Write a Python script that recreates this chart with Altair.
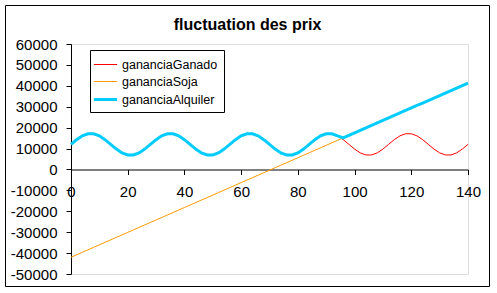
import altair as alt
import pandas as pd

x_vals = list(range(0, 141, 2))

ganado = [12000, 14260, 16070, 17070, 17070, 16070, 14260, 12000, 9740, 7930, 6930, 6930, 7930, 9740,
          12000, 14260, 16070, 17070, 17070, 16070, 14260, 12000, 9740, 7930, 6930, 6930, 7930, 9740,
          12000, 14260, 16070, 17070, 17070, 16070, 14260, 12000, 9740, 7930, 6930, 6930, 7930, 9740,
          12000, 14260, 16070, 17070, 17070, 16070, 14260, 12000, 9740, 7930, 6930, 6930, 7930, 9740,
          12000, 14260, 16070, 17070, 17070, 16070, 14260, 12000, 9740, 7930, 6930, 6930, 7930, 9740,
          12000]

soja = [-42000, -40810, -39620, -38430, -37240, -36050, -34860, -33670, -32480, -31290,
        -30100, -28910, -27720, -26530, -25340, -24150, -22960, -21770, -20580, -19390,
        -18200, -17010, -15820, -14630, -13440, -12250, -11060, -9870, -8680, -7490,
        -6300, -5110, -3920, -2730, -1540, -350, 840, 2030, 3220, 4410,
        5600, 6790, 7980, 9170, 10360, 11550, 12740, 13930, 15120, 16310,
        17500, 18690, 19880, 21070, 22260, 23450, 24640, 25830, 27020, 28210,
        29400, 30590, 31780, 32970, 34160, 35350, 36540, 37730, 38920, 40110,
        41300]

alquiler = [12000, 14260, 16070, 17070, 17070, 16070, 14260, 12000, 9740, 7930, 6930, 6930, 7930, 9740,
            12000, 14260, 16070, 17070, 17070, 16070, 14260, 12000, 9740, 7930, 6930, 6930, 7930, 9740,
            12000, 14260, 16070, 17070, 17070, 16070, 14260, 12000, 9740, 7930, 6930, 6930, 7930, 9740,
            12000, 14260, 16070, 17070, 17070, 16070,
            15120, 16310, 17500, 18690, 19880, 21070, 22260, 23450, 24640, 25830, 27020, 28210,
            29400, 30590, 31780, 32970, 34160, 35350, 36540, 37730, 38920, 40110, 41300]

series_names = ["gananciaGanado", "gananciaSoja", "gananciaAlquiler"]
series_colors = ["#FF0000", "#FF9900", "#00CCFF"]
series_widths = [1, 1, 3]
x_ticks = [0, 20, 40, 60, 80, 100, 120, 140]
y_ticks = [-50000, -40000, -30000, -20000, -10000, 0, 10000, 20000, 30000, 40000, 50000, 60000]

FONT = "Liberation Sans"

frames = []
for name, vals in zip(series_names, [ganado, soja, alquiler]):
    frames.append(pd.DataFrame({"x": x_vals, "y": vals, "series": name}))

legend = alt.Legend(
    title=None, orient="none", legendX=19, legendY=6, direction="vertical",
    symbolType="M-1.45,0H1.45", symbolSize=256,
    labelFontSize=12.5, labelFont=FONT, labelColor="black",
    strokeColor="black", fillColor="white", padding=6, rowPadding=2,
    labelOffset=7, cornerRadius=0,
)

x_enc = alt.X("x:Q", scale=alt.Scale(domain=[0, 140], nice=False),
              axis=alt.Axis(title=None, values=x_ticks, grid=False, offset=-104.5,
                            tickSize=5, labelPadding=10, labelFontSize=15, labelFont=FONT,
                            labelColor="black", domainColor="black", tickColor="black",
                            labelFlush=False, labelExpr="'' + datum.value"))
y_enc = alt.Y("y:Q", scale=alt.Scale(domain=[-50000, 60000], nice=False),
              axis=alt.Axis(title=None, values=y_ticks, grid=False,
                            tickSize=5, labelPadding=9, labelFontSize=15, labelFont=FONT,
                            labelColor="black", domainColor="black", tickColor="black",
                            labelExpr="'' + datum.value"))
color_enc = alt.Color("series:N", scale=alt.Scale(domain=series_names, range=series_colors),
                      legend=legend)
width_enc = alt.StrokeWidth("series:N", scale=alt.Scale(type="ordinal", domain=series_names,
                                                         range=series_widths),
                            legend=legend)

layers = []
for df in frames:
    layers.append(alt.Chart(df).mark_line(interpolate="linear").encode(
        x=x_enc, y=y_enc, color=color_enc, strokeWidth=width_enc))

border = alt.Chart(pd.DataFrame({"a": [0]})).mark_rect(
    fill="transparent", stroke="black", strokeWidth=1
).encode(x=alt.value(-65.5), x2=alt.value(418.5), y=alt.value(-38.5), y2=alt.value(242.5))

chart = alt.layer(*layers, border).properties(
    width=397, height=230,
    title=alt.TitleParams("fluctuation des prix", fontSize=16, fontWeight="bold", font=FONT,
                          color="black", anchor="middle", dx=-22, offset=13, dy=53.5,
                          baseline="alphabetic"),
    autosize=alt.AutoSizeParams(type="none"),
    padding={"left": 71, "top": 44, "right": 29, "bottom": 19},
).configure_view(stroke="#808080", strokeWidth=1).configure(background="white")

chart.save("out.html", embed_options={"renderer": "svg", "actions": False})
